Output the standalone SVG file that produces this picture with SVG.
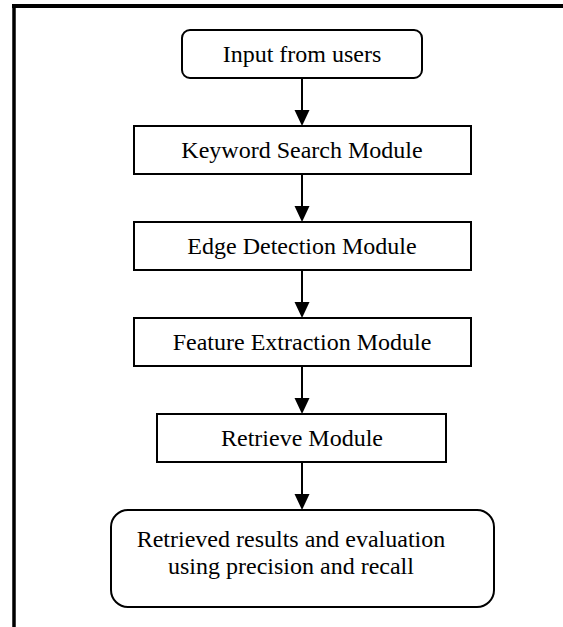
<svg xmlns="http://www.w3.org/2000/svg" width="563" height="627" viewBox="0 0 563 627">
<style>
.box{fill:#fff;stroke:#000;stroke-width:2}
.t{font-family:"Liberation Serif","Times New Roman",serif;font-size:24px;fill:#000;text-anchor:middle}
.c{stroke:#000;stroke-width:2;fill:none}
</style>
<rect width="563" height="627" fill="#fff"/>
<g id="frame">
<line x1="12" y1="6" x2="563" y2="6" stroke="#000" stroke-width="4"/>
<line x1="14" y1="4" x2="14" y2="627" stroke="#000" stroke-width="3.5"/>
</g>
<g id="connectors">
<line class="c" x1="302" y1="78" x2="302" y2="110"/>
<path d="M294.5,110 L309.5,110 L302,126 Z"/>
<line class="c" x1="302" y1="174" x2="302" y2="206"/>
<path d="M294.5,206 L309.5,206 L302,222 Z"/>
<line class="c" x1="302" y1="270" x2="302" y2="302"/>
<path d="M294.5,302 L309.5,302 L302,318 Z"/>
<line class="c" x1="302" y1="366" x2="302" y2="398"/>
<path d="M294.5,398 L309.5,398 L302,414 Z"/>
<line class="c" x1="302" y1="462" x2="302" y2="494"/>
<path d="M294.5,494 L309.5,494 L302,510 Z"/>
</g>
<g id="input">
<rect class="box" x="182" y="30" width="240" height="48" rx="8"/>
<text class="t" x="302" y="62">Input from users</text>
</g>
<g id="keyword">
<rect class="box" x="134" y="126" width="337" height="48"/>
<text class="t" x="302" y="158">Keyword Search Module</text>
</g>
<g id="edge">
<rect class="box" x="134" y="222" width="337" height="48"/>
<text class="t" x="302" y="254">Edge Detection Module</text>
</g>
<g id="feature">
<rect class="box" x="134" y="318" width="337" height="48"/>
<text class="t" x="302" y="350">Feature Extraction Module</text>
</g>
<g id="retrieve">
<rect class="box" x="157" y="414" width="289" height="48"/>
<text class="t" x="302" y="446">Retrieve Module</text>
</g>
<g id="results">
<rect class="box" x="111" y="510" width="383" height="97" rx="17"/>
<text class="t" x="291" y="547">Retrieved results and evaluation</text>
<text class="t" x="291" y="574">using precision and recall</text>
</g>
</svg>
